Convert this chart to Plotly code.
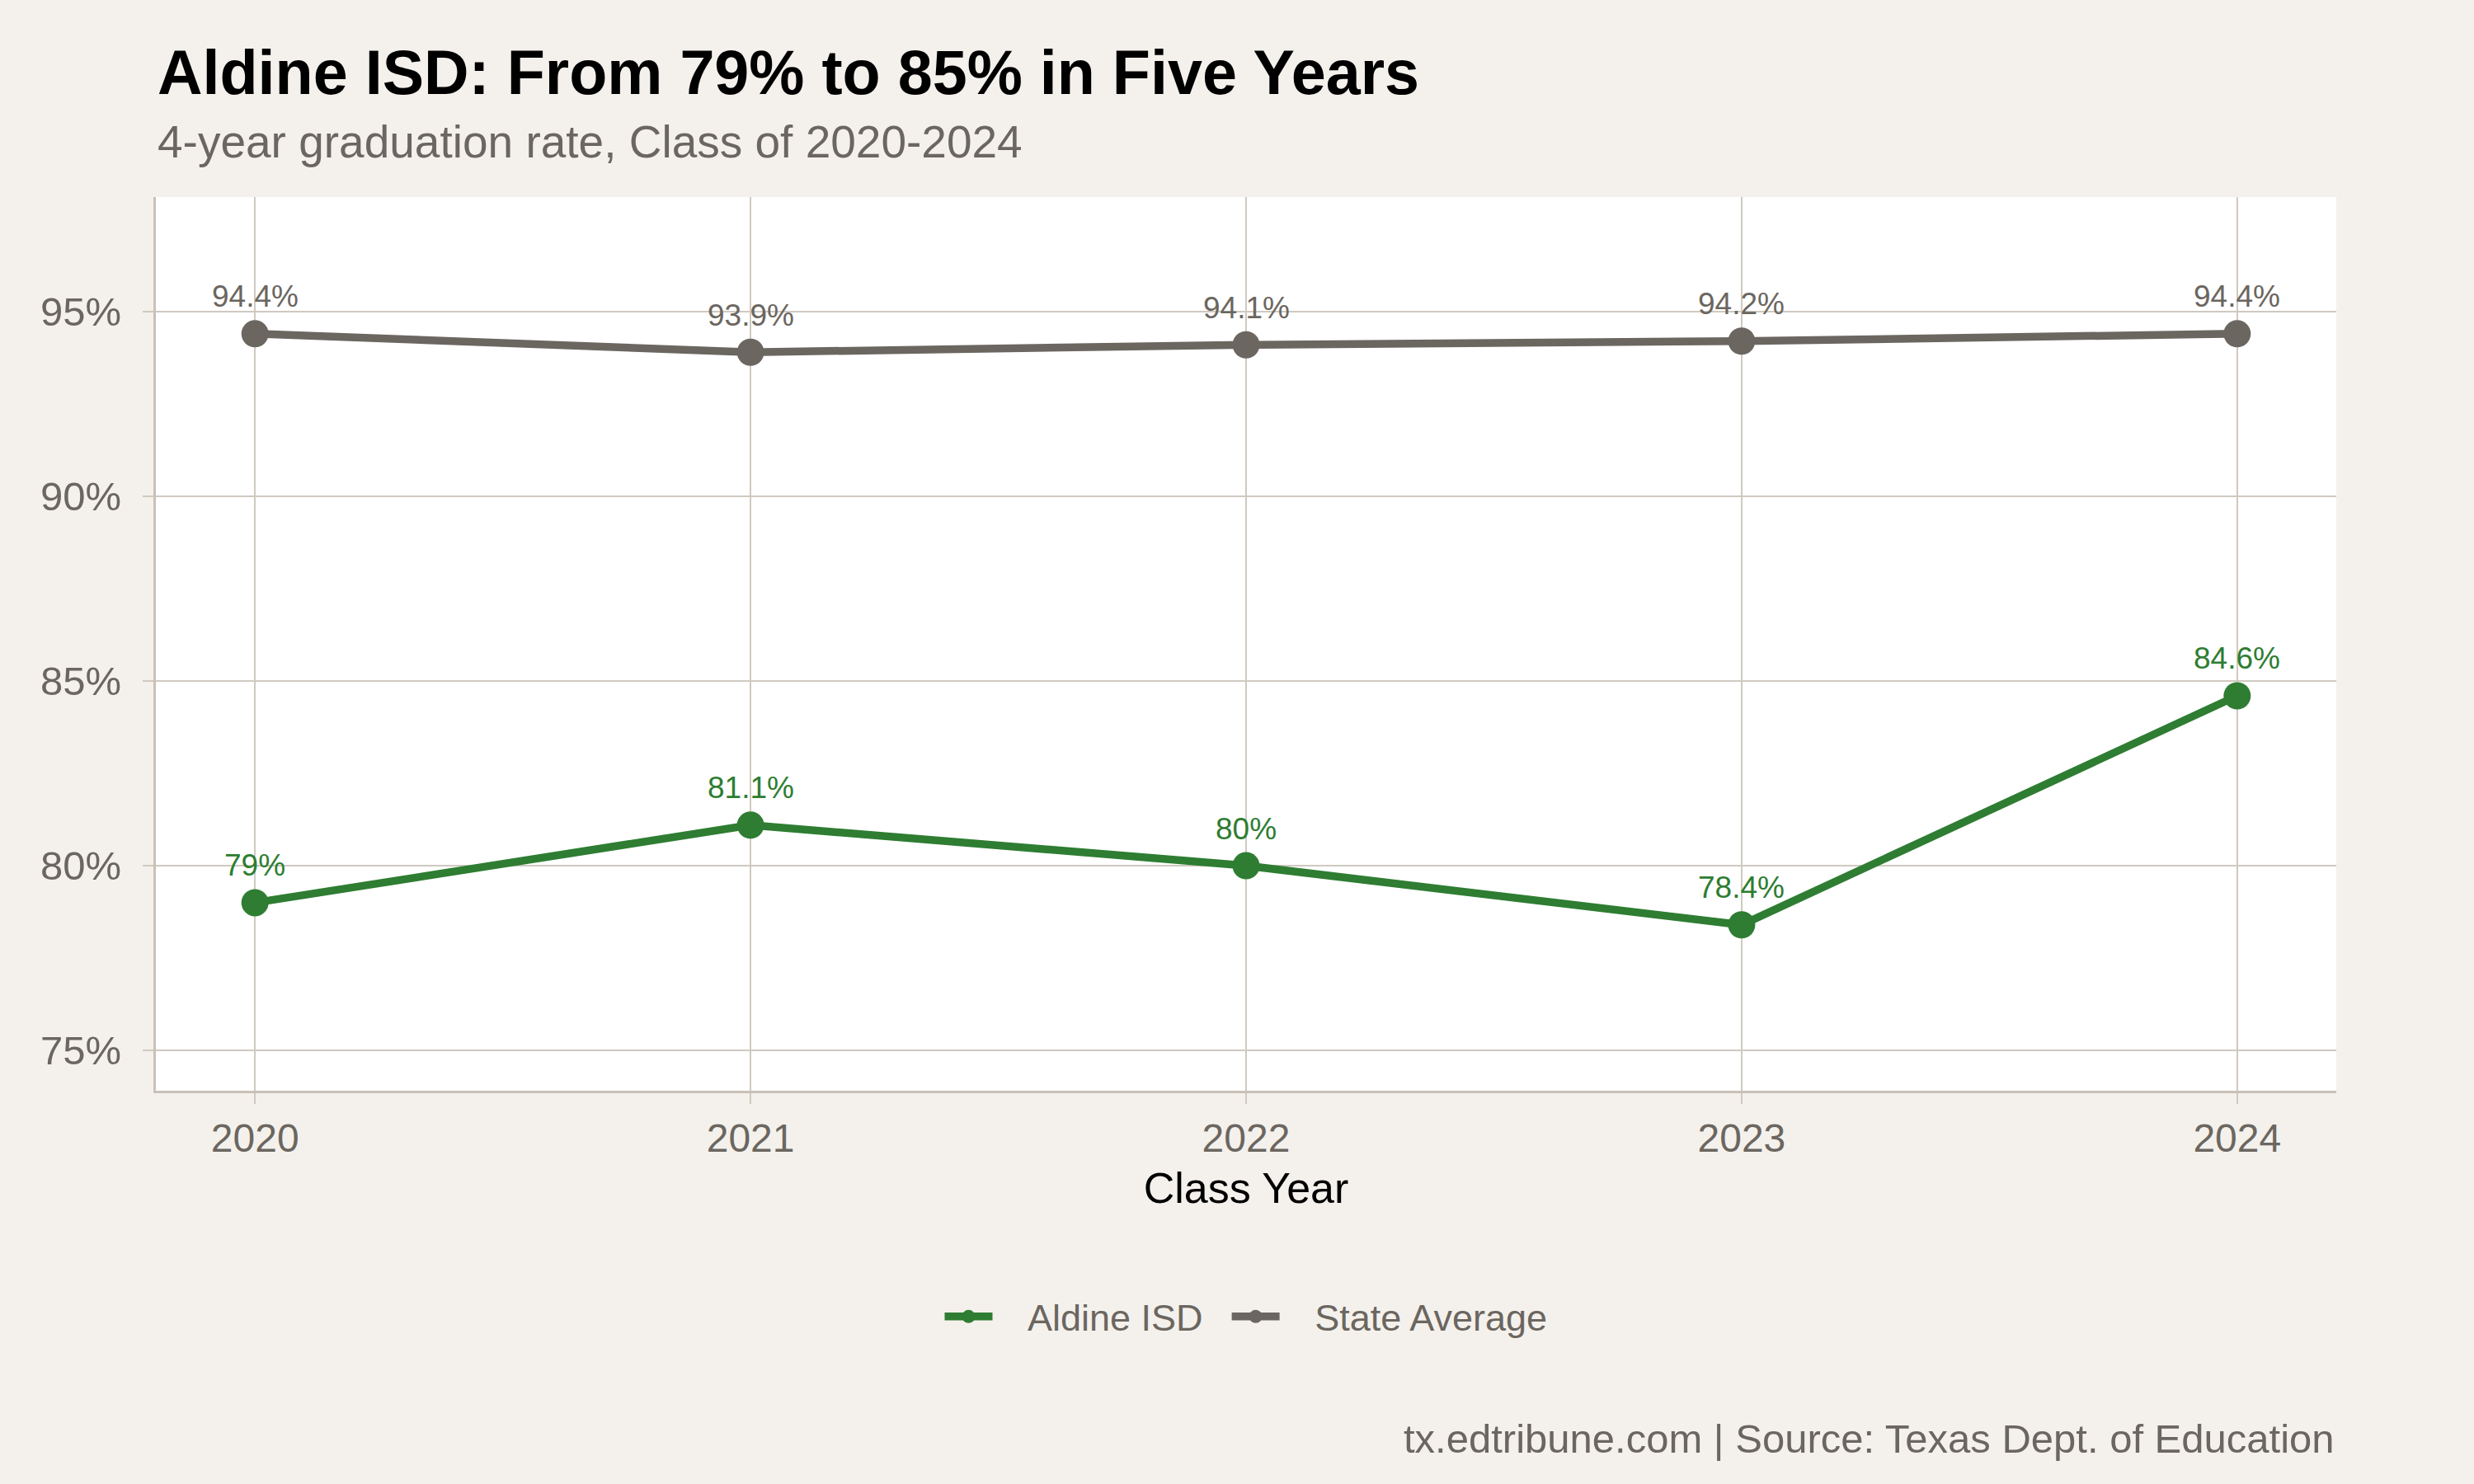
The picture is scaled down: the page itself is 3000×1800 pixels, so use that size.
import plotly.graph_objects as go

years = [2020, 2021, 2022, 2023, 2024]
aldine = [79.0, 81.1, 80.0, 78.4, 84.6]
state = [94.4, 93.9, 94.1, 94.2, 94.4]
aldine_labels = ["79%", "81.1%", "80%", "78.4%", "84.6%"]
state_labels = ["94.4%", "93.9%", "94.1%", "94.2%", "94.4%"]
y_ticks = [75, 80, 85, 90, 95]
y_tick_text = ["75%", "80%", "85%", "90%", "95%"]

GREEN = "#2e7d32"
GRAY = "#6b6660"
BG = "#f4f1ec"
GRID = "#cfc9c0"
AXIS = "#c9c1b7"
FONT = "Liberation Sans, Arial, Helvetica, sans-serif"
NB = "\u00a0"

fig = go.Figure()
fig.add_trace(go.Scatter(
    x=years, y=aldine, name=NB * 3 + "Aldine ISD" + NB * 2, mode="lines+markers",
    line=dict(color=GREEN, width=9.5), marker=dict(color=GREEN, size=33),
    hoverinfo="skip",
))
fig.add_trace(go.Scatter(
    x=years, y=state, name=NB * 3 + "State Average", mode="lines+markers",
    line=dict(color=GRAY, width=9.5), marker=dict(color=GRAY, size=33),
    hoverinfo="skip",
))

annotations = []
for xs, ys, labs, col in [(years, aldine, aldine_labels, GREEN), (years, state, state_labels, GRAY)]:
    for xv, yv, lab in zip(xs, ys, labs):
        annotations.append(dict(
            x=xv, y=yv, xref="x", yref="y", text=lab, showarrow=False,
            yanchor="middle", xanchor="center", yshift=45,
            font=dict(family=FONT, size=37, color=col),
        ))

annotations += [
    dict(x=0, y=1.1393, xref="paper", yref="paper", xanchor="left", yanchor="middle",
         text="<b>Aldine ISD: From 79% to 85% in Five Years</b>", showarrow=False,
         font=dict(family=FONT, size=75.5, color="#000000")),
    dict(x=0, y=1.0618, xref="paper", yref="paper", xanchor="left", yanchor="middle",
         text="4-year graduation rate, Class of 2020-2024", showarrow=False,
         font=dict(family=FONT, size=55, color=GRAY)),
    dict(x=1, y=-0.3893, xref="paper", yref="paper", xanchor="right", yanchor="middle",
         text="tx.edtribune.com | Source: Texas Dept. of Education", showarrow=False,
         font=dict(family=FONT, size=49, color=GRAY)),
]

fig.update_layout(
    width=3000, height=1800,
    paper_bgcolor=BG, plot_bgcolor="#ffffff",
    margin=dict(l=189, r=167, t=239, b=477),
    font=dict(family=FONT, color=GRAY),
    showlegend=True,
    legend=dict(
        orientation="h", x=0.5, xanchor="center", y=-0.2528, yanchor="middle",
        font=dict(family=FONT, size=45, color=GRAY), itemwidth=58,
        bgcolor="rgba(0,0,0,0)",
    ),
    annotations=annotations,
)
fig.update_xaxes(
    range=[2019.8, 2024.2], tickmode="array", tickvals=years, ticktext=[str(y) for y in years],
    showgrid=True, gridcolor=GRID, gridwidth=2,
    showline=True, linecolor=AXIS, linewidth=3,
    ticks="outside", ticklen=13, tickwidth=2, tickcolor=GRID,
    tickfont=dict(family=FONT, size=48, color=GRAY), ticklabelstandoff=0,
    title=dict(text="Class Year", font=dict(family=FONT, size=52, color="#000000"), standoff=18),
    zeroline=False,
)
fig.update_yaxes(
    range=[73.91, 98.10], tickmode="array", tickvals=y_ticks, ticktext=y_tick_text,
    showgrid=True, gridcolor=GRID, gridwidth=2,
    showline=True, linecolor=AXIS, linewidth=3,
    ticks="outside", ticklen=13, tickwidth=2, tickcolor=GRID,
    tickfont=dict(family=FONT, size=49, color=GRAY), ticklabelstandoff=16,
    zeroline=False,
)

fig.write_html("out.html")
